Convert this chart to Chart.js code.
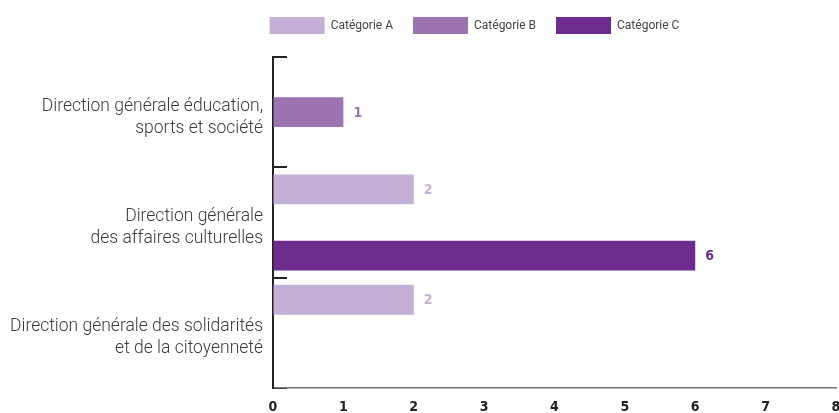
<!DOCTYPE html>
<html>
<head>
<meta charset="utf-8">
<script src="https://cdn.jsdelivr.net/npm/chart.js@4/dist/chart.umd.min.js"></script>
<style>
  html, body { margin: 0; padding: 0; background: #fff; }
  #wrap { width: 839px; height: 413px; position: relative; }
</style>
</head>
<body>
<div id="wrap"><canvas id="chart1"></canvas></div>
<script>

// DATA

let directions = [
	["Direction générale éducation,", "sports et société"],
	["Direction générale", "des affaires culturelles"],
	["Direction générale des solidarités", "et de la citoyenneté"]
];
let categoryNames = ["Catégorie A", "Catégorie B", "Catégorie C"];
let categorieA = [null, 2, 2];
let categorieB = [1, null, null];
let categorieC = [null, 6, null];
let xTicks = [0, 1, 2, 3, 4, 5, 6, 7, 8];

let colors = ["#c4b0d6", "#9b74b1", "#6c2b8d"];
let narrow = '"DejaVu Sans Condensed", "DejaVu Sans", sans-serif';


// VALUE LABELS AT THE END OF EACH BAR

let valueLabels = {
	id: "valueLabels",
	afterDatasetsDraw: function(chart){
		let ctx = chart.ctx;
		ctx.save();
		ctx.font = "bold condensed 14px " + narrow;
		ctx.textBaseline = "middle";
		ctx.textAlign = "left";
		chart.data.datasets.forEach(function(ds, i){
			let meta = chart.getDatasetMeta(i);
			meta.data.forEach(function(bar, j){
				if (ds.data[j] === null) return;
				ctx.fillStyle = ds.backgroundColor;
				ctx.fillText(String(ds.data[j]), bar.x + 10, bar.y + 1);
			});
		});
		ctx.restore();
	}
};

// the legend sits a bit right of the middle in the original
let legendShift = {
	id: "legendShift",
	afterLayout: function(chart){
		let lg = chart.legend;
		if (!lg) return;
		lg.left += 50; lg.right += 50;
		lg.top -= 13; lg.bottom -= 13;
	}
};


// CHART

let ctx1 = document.getElementById("chart1");

let myChart1 = new Chart(ctx1, {
	type: "bar",
	data: {
		labels: directions,
		datasets: [
			{ label: categoryNames[0], data: categorieA, backgroundColor: colors[0], borderWidth: 0 },
			{ label: categoryNames[1], data: categorieB, backgroundColor: colors[1], borderWidth: 0 },
			{ label: categoryNames[2], data: categorieC, backgroundColor: colors[2], borderWidth: 0 }
		]
	},
	options: {
		indexAxis: "y",
		responsive: true,
		maintainAspectRatio: false,
		animation: false,
		categoryPercentage: 0.9,
		barPercentage: 0.9,
		layout: { padding: { left: 10, right: 0, top: 10, bottom: 0 } },
		plugins: {
			legend: {
				position: "top",
				align: "center",
				labels: {
					boxWidth: 55,
					boxHeight: 17,
					padding: 20,
					color: "#444",
					font: { family: "Roboto", size: 12 }
				}
			},
			tooltip: { enabled: false }
		},
		scales: {
			x: {
				type: "linear",
				min: xTicks[0],
				max: xTicks[xTicks.length - 1],
				afterBuildTicks: function(axis){
					axis.ticks = xTicks.map(function(v){ return { value: v }; });
				},
				afterFit: function(axis){
					axis.paddingLeft = 0;
					axis.paddingRight = 3;
					axis.height = 25;
				},
				grid: { drawOnChartArea: false, drawTicks: false },
				border: { display: true, color: "#777", width: 1.5 },
				ticks: {
					padding: 11,
					color: "#222",
					font: { family: narrow, size: 14, weight: "bold condensed" }
				}
			},
			y: {
				afterFit: function(axis){
					axis.paddingTop = 0;
					axis.paddingBottom = 0;
					axis.width -= 24;
				},
				grid: {
					drawOnChartArea: false,
					drawTicks: true,
					tickLength: -14,
					color: "#222",
					lineWidth: 2
				},
				border: { display: true, color: "#222", width: 2 },
				ticks: {
					padding: 24,
					labelOffset: 5,
					color: "#3a3a3a",
					font: { family: "Roboto", size: 17.5, weight: "300", lineHeight: 1.26 }
				}
			}
		}
	},
	plugins: [valueLabels, legendShift]
});

</script>
</body>
</html>
